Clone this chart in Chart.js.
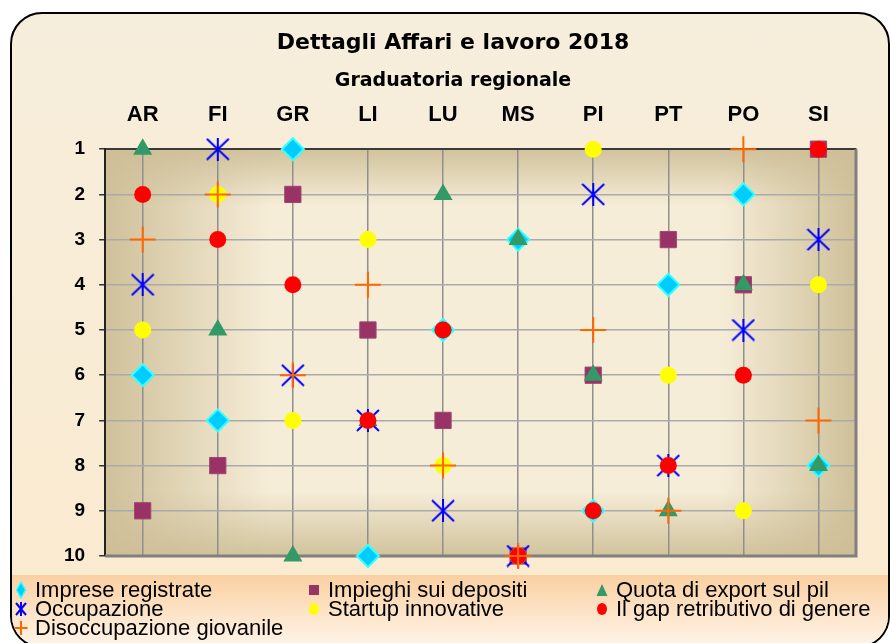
<!DOCTYPE html>
<html>
<head>
<meta charset="utf-8">
<title>Dettagli Affari e lavoro 2018</title>
<script src="https://cdn.jsdelivr.net/npm/chart.js@4.4.1/dist/chart.umd.min.js"></script>
<style>
  body { margin: 0; background: #fff; }
  #riquadro {
    position: absolute; left: 10px; top: 12px; width: 876px; height: 632px;
    border: 2px solid #000; border-radius: 32px; overflow: hidden;
    background: linear-gradient(#F6EEDC, #FBEACF);
  }
  #fascia {
    position: absolute; left: 0; right: 0; top: 561px; bottom: 0;
    background: linear-gradient(#FAD0A2, #FFF4E8);
  }
  #contenitore { position: absolute; left: 0; top: 0; width: 890px; height: 643px; }
  #legenda { position: absolute; left: 0; top: 0; width: 890px; height: 643px; pointer-events: none; }
  .voce {
    position: absolute; display: flex; align-items: center; white-space: nowrap;
    font-family: 'Liberation Sans', Arial, sans-serif; font-size: 22px; line-height: 19px; color: #000;
  }
  .voce svg { width: 16px; height: 18px; margin-right: 6px; flex: none; }
</style>
</head>
<body>
<div id="riquadro"><div id="fascia"></div></div>
<div id="contenitore"><canvas id="grafico"></canvas></div>
<div id="legenda"></div>
<script>
// Graduatoria regionale: posizione (1-10) di ciascuna provincia
const regioni = ['AR', 'FI', 'GR', 'LI', 'LU', 'MS', 'PI', 'PT', 'PO', 'SI'];
const impreseRegistrate = [6, 7, 1, 10, 5, 3, 9, 4, 2, 8];
const impieghiDepositi = [9, 8, 2, 5, 7, 10, 6, 3, 4, 1];
const quotaExport = [1, 5, 10, 7, 2, 3, 6, 9, 4, 8];
const occupazione = [4, 1, 6, 7, 9, 10, 2, 8, 5, 3];
const startupInnovative = [5, 2, 7, 3, 8, 10, 1, 6, 9, 4];
const gapRetributivo = [2, 3, 4, 7, 5, 10, 9, 8, 6, 1];
const disoccupazioneGiovanile = [3, 2, 6, 4, 8, 10, 5, 9, 1, 7];

// asterisco come quello di Excel (X con barra verticale)
const asterisco = document.createElement('canvas');
asterisco.width = 24;
asterisco.height = 23;
const actx = asterisco.getContext('2d');
actx.strokeStyle = '#0000FF';
actx.lineWidth = 2;
actx.beginPath();
actx.moveTo(12, 0); actx.lineTo(12, 23);
actx.moveTo(1, 1); actx.lineTo(23, 22);
actx.moveTo(23, 1); actx.lineTo(1, 22);
actx.stroke();

const sfondoArea = {
  id: 'sfondoArea',
  beforeDraw(chart) {
    const { ctx, chartArea: a } = chart;
    ctx.save();
    ctx.fillStyle = '#F6EDD8';
    ctx.fillRect(a.left, a.top, a.width, a.height);
    const gx = ctx.createLinearGradient(a.left, 0, a.right, 0);
    gx.addColorStop(0, 'rgba(205,190,150,0.95)');
    gx.addColorStop(0.22, 'rgba(205,190,150,0)');
    gx.addColorStop(0.82, 'rgba(205,190,150,0)');
    gx.addColorStop(1, 'rgba(205,190,150,0.95)');
    ctx.fillStyle = gx;
    ctx.fillRect(a.left, a.top, a.width, a.height);
    const gy = ctx.createLinearGradient(0, a.top, 0, a.bottom);
    gy.addColorStop(0, 'rgba(205,190,150,0.9)');
    gy.addColorStop(0.14, 'rgba(205,190,150,0)');
    gy.addColorStop(0.84, 'rgba(205,190,150,0)');
    gy.addColorStop(1, 'rgba(205,190,150,0.9)');
    ctx.fillStyle = gy;
    ctx.fillRect(a.left, a.top, a.width, a.height);
    ctx.restore();
  },
  beforeDatasetsDraw(chart) {
    const { ctx, chartArea: a } = chart;
    ctx.save();
    ctx.strokeStyle = '#808080';
    ctx.lineWidth = 3;
    ctx.beginPath();
    ctx.moveTo(a.right, a.top);
    ctx.lineTo(a.right, a.bottom);
    ctx.lineTo(a.left, a.bottom);
    ctx.stroke();
    ctx.restore();
  }
};

Chart.defaults.font.family = "'Liberation Sans', Arial, sans-serif";

const ctx = document.getElementById('grafico').getContext('2d');
const grafico = new Chart(ctx, {
  type: 'line',
  data: {
    labels: regioni,
    datasets: [
      { label: 'Imprese registrate', data: impreseRegistrate, order: 7,
        pointStyle: 'rectRot', pointRadius: 11, backgroundColor: '#00CCFF', borderColor: '#33FFFF', borderWidth: 2 },
      { label: 'Impieghi sui depositi', data: impieghiDepositi, order: 6,
        pointStyle: 'rect', pointRadius: 11.5, backgroundColor: '#993366', borderColor: '#A3446F', borderWidth: 1 },
      { label: 'Quota di export sul pil', data: quotaExport, order: 5,
        pointStyle: 'triangle', pointRadius: 11, backgroundColor: '#339966', borderColor: '#339966', borderWidth: 0 },
      { label: 'Occupazione', data: occupazione, order: 4,
        pointStyle: asterisco, pointRadius: 11, backgroundColor: '#0000FF', borderColor: '#0000FF' },
      { label: 'Startup innovative', data: startupInnovative, order: 3,
        pointStyle: 'circle', pointRadius: 8.5, backgroundColor: '#FFFF00', borderColor: '#FFFF00', borderWidth: 0 },
      { label: 'Il gap retributivo di genere', data: gapRetributivo, order: 2,
        pointStyle: 'circle', pointRadius: 8.5, backgroundColor: '#FF0000', borderColor: '#FF0000', borderWidth: 0 },
      { label: 'Disoccupazione giovanile', data: disoccupazioneGiovanile, order: 1,
        pointStyle: 'cross', pointRadius: 13, backgroundColor: '#FF6600', borderColor: '#FF6600', borderWidth: 2 }
    ].map(d => Object.assign(d, { showLine: false, clip: false, pointHoverRadius: d.pointRadius }))
  },
  options: {
    responsive: true,
    maintainAspectRatio: false,
    animation: false,
    layout: { padding: { top: 30, left: 50, right: 34, bottom: 87 } },
    plugins: {
      legend: { display: false },
      tooltip: { enabled: false },
      title: {
        display: true,
        text: 'Dettagli Affari e lavoro 2018',
        color: '#000',
        font: { family: "'DejaVu Sans', sans-serif", size: 22, weight: 'bold' },
        padding: { top: 0, bottom: 13 }
      },
      subtitle: {
        display: true,
        text: 'Graduatoria regionale',
        color: '#000',
        font: { family: "'DejaVu Sans', sans-serif", size: 19, weight: 'bold' },
        padding: { top: 0, bottom: 0 }
      }
    },
    scales: {
      x: {
        position: 'top',
        offset: true,
        grid: { offset: false, color: '#8F8F8F', lineWidth: 1.5, drawTicks: false },
        border: { color: '#3A3A3A', width: 2 },
        ticks: { color: '#000', font: { size: 22, weight: 'bold' }, padding: 21, maxRotation: 0 },
        afterFit(scale) { scale.height = 57; }
      },
      y: {
        reverse: true,
        min: 1,
        max: 10,
        grid: { color: '#AAAAAA', lineWidth: 1.5, tickLength: 6, tickColor: '#333' },
        border: { color: '#222', width: 2 },
        ticks: { stepSize: 1, color: '#000', font: { size: 19, weight: 'bold' }, padding: 14 }
      }
    }
  },
  plugins: [sfondoArea]
});

// legenda HTML su tre colonne come nell'originale
const simboli = [
  '<polygon points="8,1 12.5,9 8,17 3.5,9" fill="#00CCFF" stroke="#33FFFF" stroke-width="1.5"/>',
  '<rect x="3" y="4" width="10" height="10" fill="#993366"/>',
  '<polygon points="8,3 13.5,15 2.5,15" fill="#339966"/>',
  '<path d="M3,3 L13,15 M13,3 L3,15 M8,2 L8,16" stroke="#0000FF" stroke-width="2"/>',
  '<ellipse cx="8" cy="9" rx="5" ry="6" fill="#FFFF00"/>',
  '<ellipse cx="8" cy="9" rx="5" ry="6" fill="#FF0000"/>',
  '<path d="M8,2 L8,16 M1.5,9 L14.5,9" stroke="#FF6600" stroke-width="2"/>'
];
const colonne = [13, 306, 594];
const legenda = document.getElementById('legenda');
grafico.data.datasets.forEach((d, i) => {
  const voce = document.createElement('div');
  voce.className = 'voce';
  voce.style.left = colonne[i % 3] + 'px';
  voce.style.top = (580 + Math.floor(i / 3) * 19) + 'px';
  voce.innerHTML = '<svg viewBox="0 0 16 18">' + simboli[i] + '</svg><span>' + d.label + '</span>';
  legenda.appendChild(voce);
});
</script>
</body>
</html>
